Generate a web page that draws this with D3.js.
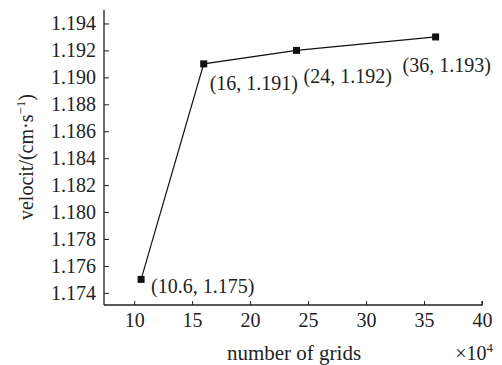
<!DOCTYPE html>
<html>
<head>
<meta charset="utf-8">
<script src="https://cdn.jsdelivr.net/npm/d3@7"></script>
<style>
  html, body { margin: 0; padding: 0; background: #fff; }
  svg { display: block; }
</style>
</head>
<body>
<svg id="chart" width="502" height="365"></svg>
<script>
// Grid-independence study: velocity vs number of grid cells (×10^4)
const grids = [10.6, 16, 24, 36];
const velocity = [1.175, 1.191, 1.192, 1.193];
const pointLabels = ["(10.6, 1.175)", "(16, 1.191)", "(24, 1.192)", "(36, 1.193)"];
const xTicks = [10, 15, 20, 25, 30, 35, 40];
const yTicks = [1.174, 1.176, 1.178, 1.180, 1.182, 1.184, 1.186, 1.188, 1.190, 1.192, 1.194];

const svg = d3.select("#chart");
const plotLeft = 104, plotRight = 482, plotTop = 10, plotBottom = 305;
const serif = '"Liberation Serif", "Times New Roman", serif';
const ink = "#222";

const x = d3.scaleLinear().domain([7.4, 40]).range([plotLeft, plotRight]);
const y = d3.scaleLinear().domain([1.1731, 1.195]).range([plotBottom, plotTop]);

const fontSize = 20;

// axes with inward ticks
const xAxis = d3.axisBottom(x).tickValues(xTicks).tickSizeInner(-4).tickSizeOuter(0)
  .tickPadding(8).tickFormat(d3.format("d"));
const yAxis = d3.axisLeft(y).tickValues(yTicks).tickSizeInner(-5).tickSizeOuter(0)
  .tickPadding(8).tickFormat(d3.format(".3f"));

const gx = svg.append("g").attr("transform", `translate(0,${plotBottom})`).call(xAxis);
const gy = svg.append("g").attr("transform", `translate(${plotLeft},0)`).call(yAxis);

[gx, gy].forEach(g => {
  g.select(".domain").attr("stroke", ink).attr("stroke-width", 1.3);
  g.selectAll(".tick line").attr("stroke", ink).attr("stroke-width", 1);
  g.selectAll(".tick text")
    .style("font-family", serif)
    .style("font-size", fontSize + "px")
    .attr("fill", ink);
});
gx.select(".domain").attr("d", `M${plotLeft},0H${plotRight}V-4`);
gy.select(".domain").attr("d", `M0,${plotBottom}V${plotTop}`);

// line through the points
const line = d3.line().x((d, i) => x(grids[i])).y(d => y(d));
svg.append("path")
  .datum(velocity)
  .attr("d", line)
  .attr("fill", "none")
  .attr("stroke", "#111")
  .attr("stroke-width", 1.2);

// square markers
const m = 7;
svg.selectAll("rect.pt")
  .data(velocity)
  .join("rect")
  .attr("class", "pt")
  .attr("x", (d, i) => x(grids[i]) - m / 2)
  .attr("y", d => y(d) - m / 2)
  .attr("width", m)
  .attr("height", m)
  .attr("fill", "#111");

// point value labels
const labelOffsets = [[10, 14], [6, 26], [7, 33], [-33, 35]];
svg.selectAll("text.lbl")
  .data(velocity)
  .join("text")
  .attr("class", "lbl")
  .attr("x", (d, i) => x(grids[i]) + labelOffsets[i][0])
  .attr("y", (d, i) => y(d) + labelOffsets[i][1])
  .style("font-family", serif)
  .style("font-size", fontSize + "px")
  .attr("fill", ink)
  .text((d, i) => pointLabels[i]);

// axis titles
svg.append("text")
  .attr("x", 294).attr("y", 360)
  .attr("text-anchor", "middle")
  .style("font-family", serif)
  .style("font-size", "21px")
  .attr("fill", ink)
  .text("number of grids");

const mult = svg.append("text")
  .attr("x", 493).attr("y", 360)
  .attr("text-anchor", "end")
  .style("font-family", serif)
  .style("font-size", fontSize + "px")
  .attr("fill", ink);
mult.append("tspan").text("×10");
mult.append("tspan").attr("dy", -8).style("font-size", "13px").text("4");

const yl = svg.append("text")
  .attr("transform", "translate(33,157) rotate(-90)")
  .attr("text-anchor", "middle")
  .style("font-family", serif)
  .style("font-size", fontSize + "px")
  .attr("fill", ink);
yl.append("tspan").text("velocit/(cm·s");
yl.append("tspan").attr("dy", -8).style("font-size", "13px").text("−1");
yl.append("tspan").attr("dy", 8).text(")");
</script>
</body>
</html>
